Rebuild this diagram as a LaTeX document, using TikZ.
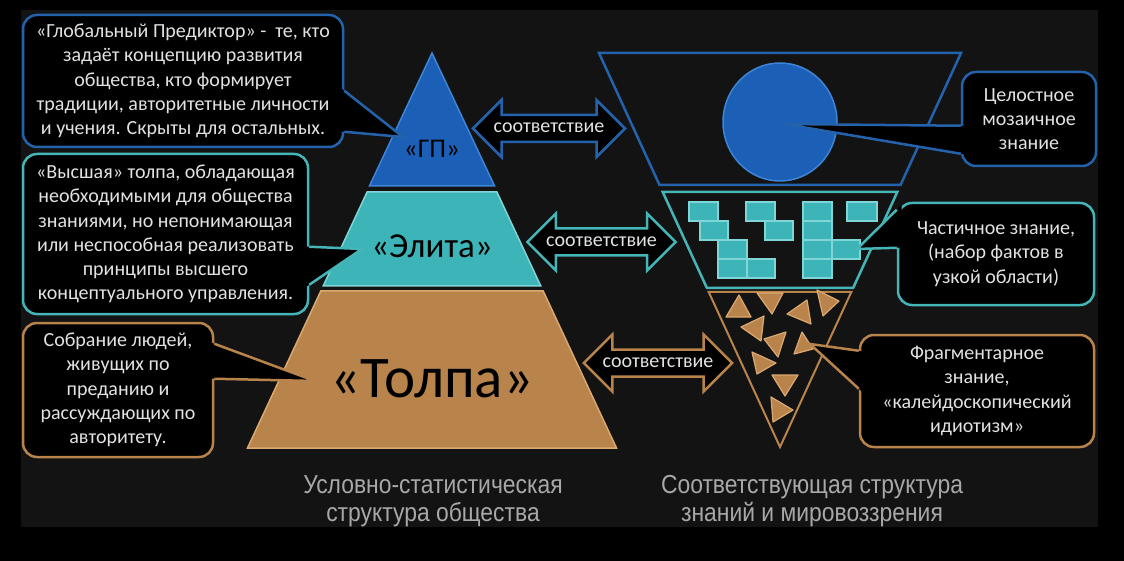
\documentclass[tikz,border=0pt]{standalone}
\usepackage{fontspec}
\setmainfont{Carlito}
\newfontfamily\capfont[FakeStretch=0.88]{Liberation Sans}
\usetikzlibrary{calc,shapes.arrows}

\definecolor{panel}{HTML}{131313}
\definecolor{gp}{HTML}{1C5FB6}
\definecolor{gpline}{HTML}{3D85D6}
\definecolor{elite}{HTML}{3DB4B8}
\definecolor{eliteline}{HTML}{80D5D7}
\definecolor{crowd}{HTML}{B8844C}
\definecolor{crowdline}{HTML}{DBA970}
\definecolor{noteblue}{HTML}{2462AC}
\definecolor{noteteal}{HTML}{45B5B8}
\definecolor{notetan}{HTML}{B8844C}
\definecolor{notetext}{HTML}{E2E2E2}
\definecolor{captext}{HTML}{A8A8A8}

% tail of a callout: colour, base, base, tip
\newcommand{\calltail}[4]{%
  \fill[black] ($(#4)!1.12!(#2)$) -- (#4) -- ($(#4)!1.12!(#3)$) -- cycle;
  \draw[draw=#1, line width=2.5pt] (#2) -- (#4) -- (#3);
}

\tikzset{
  note/.style={draw=#1, fill=black, line width=2.5pt, rounded corners=14pt,
    inner sep=0pt, align=center, text=notetext,
    font=\fontsize{20}{24.3}\selectfont},
  corr/.style={double arrow, draw=#1, fill=black, line width=2.5pt,
    double arrow head extend=15pt, inner xsep=4pt, inner ysep=7pt,
    text height=9.5pt, text depth=1pt, text=notetext,
    font=\fontsize{20}{20}\selectfont},
  layer/.style={fill=#1, draw=#1line, line width=1.5pt},
  block/.style={fill=elite, draw=eliteline, line width=1.5pt},
  shard/.style={fill=crowd, draw=crowdline, line width=1.2pt, line join=round},
  caption/.style={align=center, text=captext, font=\capfont\fontsize{26}{28}\selectfont}
}

\begin{document}
\begin{tikzpicture}[x=1pt,y=-1pt]
\fill[black] (0,0) rectangle (1124,561);
\fill[panel] (21,10) rectangle (1098,527);
\useasboundingbox (0,0) rectangle (1124,561);

% society pyramid
\draw[layer=gp] (432,53) -- (494.6,186) -- (369.4,186) -- cycle;
\draw[layer=elite] (367.1,192) -- (496.9,192) -- (540.8,286) -- (323.2,286) -- cycle;
\draw[layer=crowd] (320.8,291) -- (543.2,291) -- (616.5,448) -- (247.5,448) -- cycle;
\node[anchor=base, font=\fontsize{27}{27}\selectfont] (gplabel) at (432,158) {«ГП»};
\node[anchor=base, font=\fontsize{35}{35}\selectfont] (elitelabel) at (432,258) {«Элита»};
\node[anchor=base, font=\fontsize{59}{59}\selectfont] (crowdlabel) at (432,397) {«Толпа»};

% knowledge funnel
\draw[noteblue, line width=2.5pt] (599,53) -- (961,53) -- (900.5,185) -- (659.5,185) -- cycle;
\draw[noteteal, line width=2.5pt] (662.7,192) -- (897.3,192) -- (853.1,288) -- (706.9,288) -- cycle;
\draw[notetan, line width=2pt] (708.7,292) -- (851.3,292) -- (780,447) -- cycle;
\filldraw[fill=gp, draw=gpline, line width=1.5pt] (780,122) ellipse (57 and 59);
\foreach \x/\y/\w in {689/202/29, 700/221/28, 718/240/29, 718/259/29, 747/259/28,
    746/202/29, 765/221/28, 803/202/29, 803/221/29, 803/240/29, 803/259/29,
    832/240/28, 847/202/30}
  \draw[block] (\x,\y) rectangle ++(\w,19);
\foreach \a/\b/\c in {{739,295}/{726,317}/{751,317}, {757,293}/{783,293}/{772,314},
    {787,314}/{807,300}/{811,324}, {817,290}/{839,301}/{823,316},
    {741,327}/{764,316}/{761,341}, {764,339}/{786,332}/{778,357},
    {794,354}/{802,332}/{813,349}, {752,352}/{776,363}/{757,374},
    {772,375}/{798,375}/{785,396}, {771,397}/{793,410}/{773,422}}
  \draw[shard] (\a) -- (\b) -- (\c) -- cycle;

% correspondence arrows
\node[corr=noteblue, minimum height=152pt] (corrgp) at (549,128.5) {соответствие};
\node[corr=noteteal, minimum height=143pt] (correlite) at (601.5,242) {соответствие};
\node[corr=notetan, minimum height=142pt] (corrcrowd) at (658,363) {соответствие};

% callouts on the left
\node[note=noteblue, minimum width=320pt, minimum height=132pt] (gpnote) at (183,81)
  {«Глобальный Предиктор» -~ те, кто\\ задаёт концепцию развития\\ общества, кто формирует\\
   традиции, авторитетные личности\\ и учения. Скрыты для остальных.};
\calltail{noteblue}{$(gpnote.north east)+(0,77)$}{$(gpnote.north east)+(0,118)$}{403,137}
\node[note=noteteal, minimum width=285pt, minimum height=160pt] (elitenote) at (165.5,234)
  {«Высшая» толпа, обладающая\\ необходимыми для общества\\ знаниями, но непонимающая\\
   или неспособная реализовать\\ принципы высшего\\ концептуального управления.};
\calltail{noteteal}{$(elitenote.north east)+(0,94)$}{$(elitenote.north east)+(0,132)$}{362,249}
\node[note=notetan, minimum width=190pt, minimum height=134pt] (crowdnote) at (118,390)
  {Собрание людей,\\ живущих по\\ преданию и\\ рассуждающих по\\ авторитету.};
\calltail{notetan}{$(crowdnote.north east)+(0,22)$}{$(crowdnote.north east)+(0,57)$}{315,381}

% callouts on the right
\node[note=noteblue, minimum width=134pt, minimum height=94pt] (wholenote) at (1029,119)
  {Целостное\\ мозаичное\\ знание};
\calltail{noteblue}{$(wholenote.north west)+(0,55)$}{$(wholenote.north west)+(0,83)$}{784,124}
\node[note=noteteal, minimum width=196pt, minimum height=102pt] (partnote) at (996,254)
  {Частичное знание,\\ (набор фактов в\\ узкой области)};
\calltail{noteteal}{$(partnote.north west)+(0,8)$}{$(partnote.north west)+(0,46)$}{857,249}
\node[note=notetan, minimum width=234pt, minimum height=112pt] (fragnote) at (977,391)
  {Фрагментарное\\ знание,\\ «калейдоскопический\\ идиотизм»};
\calltail{notetan}{$(fragnote.north west)+(0,17)$}{$(fragnote.north west)+(0,55)$}{810,344}

% captions
\node[caption] (leftcap) at (433,501) {Условно-статистическая\\ структура общества};
\node[caption] (rightcap) at (812,501) {Соответствующая структура\\ знаний и мировоззрения};
\end{tikzpicture}
\end{document}
